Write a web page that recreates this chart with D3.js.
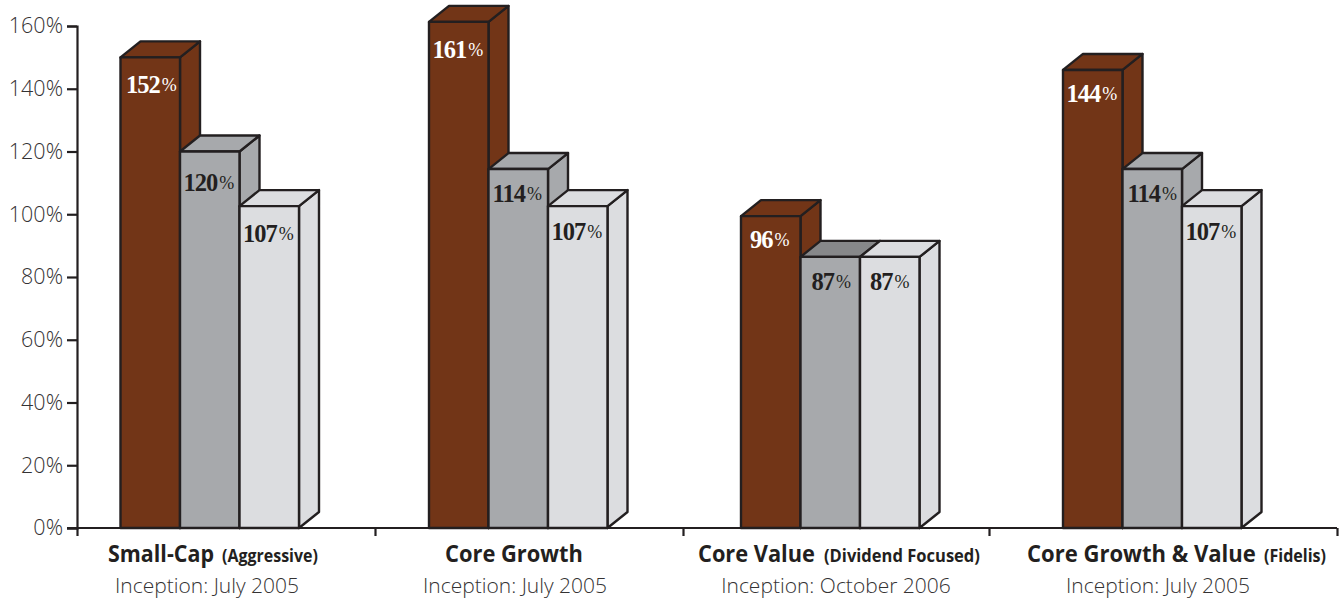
<!DOCTYPE html>
<html><head><meta charset="utf-8">
<script src="https://cdn.jsdelivr.net/npm/d3@7"></script>
<style>html,body{margin:0;padding:0;background:#fff}svg{display:block}</style>
</head><body><svg id="c" width="1339" height="599"></svg>
<script>
// ---- data ----
const categories = ["Small-Cap", "Core Growth", "Core Value", "Core Growth & Value"];
const qualifiers = ["(Aggressive)", "", "(Dividend Focused)", "(Fidelis)"];
const inceptions = ["Inception: July 2005", "Inception: July 2005", "Inception: October 2006", "Inception: July 2005"];
const series = ["A", "B", "C"];
const drawnA = [150, 161.3, 99.4, 146];
const drawnB = [120, 114.4, 86.4, 114.4];
const drawnC = [102.6, 102.6, 86.4, 102.6];
const labelA = [152, 161, 96, 144];
const labelB = [120, 114, 87, 114];
const labelC = [107, 107, 87, 107];
const yTicks = [0, 20, 40, 60, 80, 100, 120, 140, 160];

// ---- layout & style ----
const svg = d3.select("#c");
const y = d3.scaleLinear().domain([0, 160]).range([528, 26]);
const groupX = d3.scaleOrdinal().domain(categories).range([120.5, 429, 741, 1063]);
const groupEdges = [77, 375, 683, 989, 1337];
const textCenter = d3.scaleOrdinal().domain(categories).range([207, 515, 836, 1158]);
const inner = d3.scaleBand().domain(series).range([0, 178.5]);
const dx = 20, dy = 16;
const ink = "#231f20", text = "#343233";
const front = {A: "#723517", B: "#a7a9ac", C: "#dcdde0"};
const labelFill = {A: "#fff", B: ink, C: ink};
const labelDrop = {A: [36, 36, 32, 32], B: [39, 33, 33, 33], C: [36, 34, 33, 34]};
const labelShift = {A: [1, -1, -1, -1], B: [-1, -1, 1, 0], C: [-1, -1, 0, -1]};
const drawn = {A: drawnA, B: drawnB, C: drawnC};
const labels = {A: labelA, B: labelB, C: labelC};
const sans = "'Open Sans', sans-serif";
const serif = "'Liberation Serif', serif";

// axes
const axisY = d3.axisLeft(y).tickValues(yTicks).tickSize(10).tickPadding(4).tickFormat(d => d + "%");
const gy = svg.append("g").attr("transform", "translate(77,0)").call(axisY);
gy.selectAll("path").attr("stroke", ink).attr("stroke-width", 2.2);
gy.selectAll("line").attr("stroke", ink).attr("stroke-width", 2.2);
gy.selectAll("text").attr("font-family", sans).attr("font-size", 21.5).attr("fill", text).attr("font-weight", 300);

const edgeScale = d3.scaleLinear().domain([77, 1337]).range([77, 1337]);
const axisX = d3.axisBottom(edgeScale).tickValues(groupEdges).tickSize(8).tickFormat("");
const gx = svg.append("g").attr("transform", "translate(0,528)").call(axisX);
gx.selectAll("path").attr("stroke", ink).attr("stroke-width", 2.2).attr("d", "M67,0H1337");
gx.selectAll("line").attr("stroke", ink).attr("stroke-width", 2.2);

// bars
const line = d3.line();
categories.forEach((cat, i) => {
  series.forEach(s => {
    const g = svg.append("g");
    const x0 = groupX(cat) + inner(s), x1 = x0 + inner.bandwidth();
    const t = y(drawn[s][i]), b = y(0);
    const poly = (pts, fill) => g.append("path").attr("d", line(pts) + "Z").attr("fill", fill)
      .attr("stroke", ink).attr("stroke-width", 2.4).attr("stroke-linejoin", "round");
    poly([[x1, t], [x1 + dx, t - dy], [x1 + dx, b - dy], [x1, b]], front[s]);
    const topFill = (s === "B" && drawn.B[i] === drawn.C[i]) ? "#87888a" : front[s];
    poly([[x0, t], [x0 + dx, t - dy], [x1 + dx, t - dy], [x1, t]], topFill);
    poly([[x0, t], [x1, t], [x1, b], [x0, b]], front[s]);
    const lab = g.append("text").attr("text-anchor", "middle")
      .attr("x", (x0 + x1) / 2 + labelShift[s][i]).attr("y", t + labelDrop[s][i])
      .attr("fill", labelFill[s]).attr("font-family", serif);
    lab.append("tspan").attr("font-size", 24.5).attr("font-weight", 700).attr("letter-spacing", -1).text(labels[s][i]);
    lab.append("tspan").attr("font-size", 18).attr("dx", 2).attr("dy", -2).text("%");
  });
});

// category labels: squeezed horizontally to imitate the condensed face
const mainStart = [108, 445, 698, 1027];
const mainWidths = [106, 138, 117, 229];
const subStart = [222, 0, 824, 1264];
const subWidths = [96, 0, 156, 62];
function squeezed(str, x, baseline, size, width) {
  const t = svg.append("text").attr("font-family", sans).attr("font-weight", 700)
    .attr("fill", ink).attr("font-size", size).text(str);
  const k = width / t.node().getComputedTextLength();
  t.attr("transform", `translate(${x},${baseline}) scale(${k},1)`);
}
categories.forEach((cat, i) => {
  squeezed(cat, mainStart[i], 562, 24, mainWidths[i]);
  if (qualifiers[i]) squeezed(qualifiers[i], subStart[i], 562, 17, subWidths[i]);
  svg.append("text").attr("text-anchor", "middle").attr("x", textCenter(cat)).attr("y", 593)
    .attr("font-family", sans).attr("font-weight", 300).attr("font-size", 21).attr("fill", text)
    .text(inceptions[i]);
});
</script></body></html>
